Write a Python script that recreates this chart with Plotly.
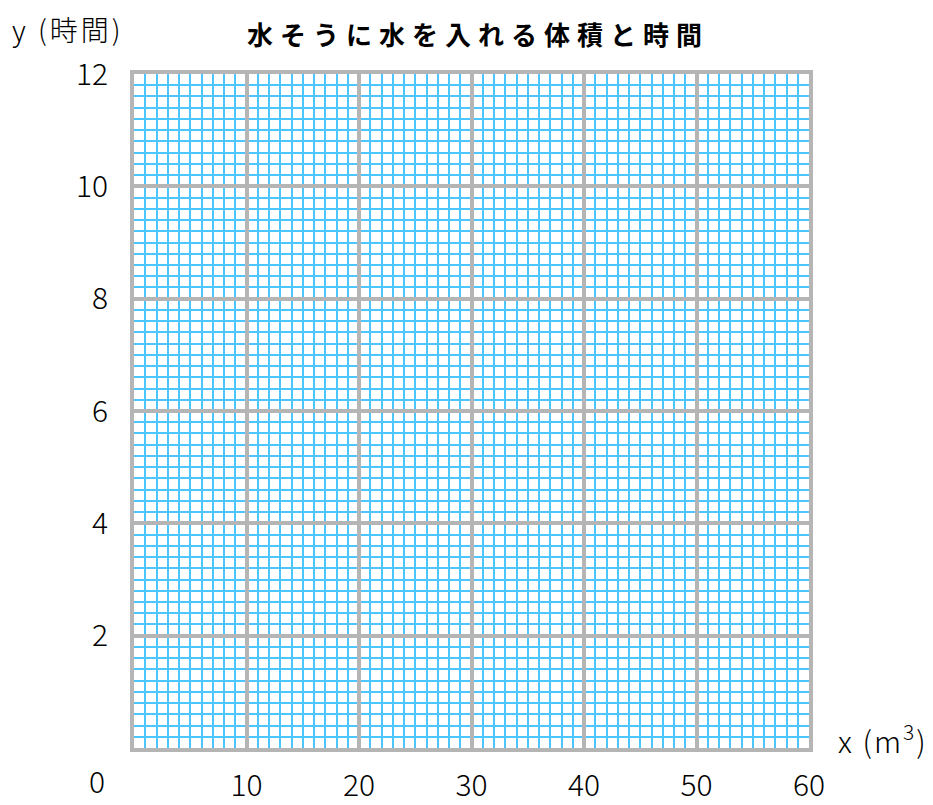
import plotly.graph_objects as go

x_ticks = [10, 20, 30, 40, 50, 60]
x_tick_labels = ["10", "20", "30", "40", "50", "60"]
y_ticks = [2, 4, 6, 8, 10, 12]
y_tick_labels = ["2", "4", "6", "8", "10", "12"]
title_text = "水そうに水を入れる体積と時間"
x_label = "x (m<sup>3</sup>)"
y_label = "y (時間)"

FONT = "Noto Sans CJK JP"
GRAY = "#b5b5b5"
BLUE = "#4dc6ff"

OFF = 8  # page body margin
W, H = 933 - OFF, 805 - OFF
# plot area in reference pixels
PX0, PX1, PY0, PY1 = 134, 809, 74, 748
L, T = PX0 - OFF, PY0 - OFF
R, B = W - (PX1 - OFF), H - (PY1 - OFF)

fig = go.Figure()
fig.add_trace(go.Scatter(x=[0, 60], y=[0, 12], mode="markers",
                         marker=dict(opacity=0), hoverinfo="skip", showlegend=False))

tickfont = dict(size=30, family=FONT, color="black", weight=300)

fig.update_layout(
    width=W, height=H,
    margin=dict(l=L, r=R, t=T, b=B, autoexpand=False),
    paper_bgcolor="white", plot_bgcolor="white",
    font=dict(family=FONT, color="black"),
    showlegend=False,
    xaxis=dict(
        range=[0, 60], tickvals=x_ticks, ticktext=x_tick_labels,
        showgrid=True, gridcolor=GRAY, gridwidth=4,
        minor=dict(dtick=1, showgrid=True, gridcolor=BLUE, gridwidth=2, tick0=0),
        zeroline=False, showline=True, linecolor=GRAY, linewidth=4, mirror=True,
        ticks="", ticklabelstandoff=8, automargin=False,
        tickfont=tickfont,
        fixedrange=True,
    ),
    yaxis=dict(
        range=[0, 12], tickvals=y_ticks, ticktext=y_tick_labels,
        showgrid=True, gridcolor=GRAY, gridwidth=4,
        minor=dict(dtick=0.2, showgrid=True, gridcolor=BLUE, gridwidth=2, tick0=0),
        zeroline=False, showline=True, linecolor=GRAY, linewidth=4, mirror=True,
        ticks="", ticklabelstandoff=16, automargin=False,
        tickfont=tickfont,
        fixedrange=True,
    ),
)

pw, ph = W - L - R, H - T - B
def px(xp): return (xp - OFF - L) / pw
def py(yp): return (H - B - (yp - OFF)) / ph

fig.add_annotation(x=px(97), y=py(780), xref="paper", yref="paper", text="0",
                   xanchor="center", yanchor="middle",
                   showarrow=False, font=tickfont)
fig.add_annotation(x=px(10), y=py(29), xref="paper", yref="paper",
                   text='<span style="letter-spacing:3px">' + y_label + "</span>",
                   xanchor="left", yanchor="middle",
                   showarrow=False, font=dict(size=28, family=FONT, color="black", weight=300))
fig.add_annotation(x=px(836), y=py(739), xref="paper", yref="paper",
                   text='<span style="letter-spacing:2px">' + x_label + "</span>",
                   xanchor="left", yanchor="middle",
                   showarrow=False, font=dict(size=30, family=FONT, color="black", weight=300))
fig.add_annotation(x=px(478), y=py(34), xref="paper", yref="paper",
                   text='<b><span style="letter-spacing:7px">' + title_text + "</span></b>",
                   xanchor="center", yanchor="middle",
                   showarrow=False, font=dict(size=26, family=FONT, color="black"))

fig.write_html("out.html")
